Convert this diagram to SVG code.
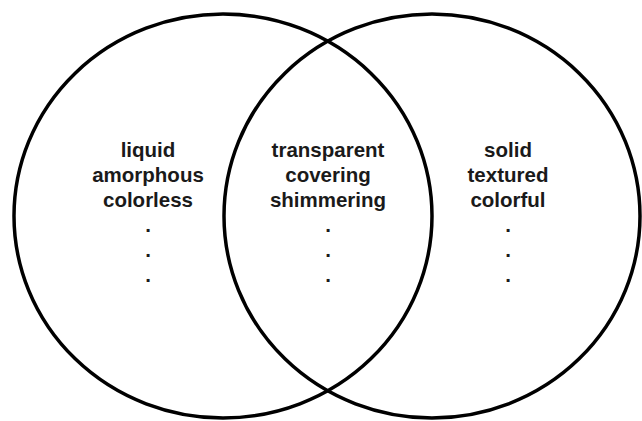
<svg xmlns="http://www.w3.org/2000/svg" width="642" height="421" viewBox="0 0 642 421">
<style>
.ring{fill:none;stroke:#000;stroke-width:3.5}
.lbl{font-family:"Liberation Sans",Arial,sans-serif;font-weight:bold;font-size:20.5px;fill:#1a1a1a;text-anchor:middle}
</style>
<rect width="642" height="421" fill="#fff"/>
<g id="set-left">
<ellipse class="ring" cx="223" cy="216" rx="209" ry="202"/>
<text class="lbl" x="148" y="157">liquid</text>
<text class="lbl" x="148" y="182">amorphous</text>
<text class="lbl" x="148" y="207">colorless</text>
<text class="lbl" x="148" y="232">.</text>
<text class="lbl" x="148" y="257">.</text>
<text class="lbl" x="148" y="282">.</text>
</g>
<g id="set-right">
<ellipse class="ring" cx="432" cy="216" rx="208" ry="202"/>
<text class="lbl" x="508" y="157">solid</text>
<text class="lbl" x="508" y="182">textured</text>
<text class="lbl" x="508" y="207">colorful</text>
<text class="lbl" x="508" y="232">.</text>
<text class="lbl" x="508" y="257">.</text>
<text class="lbl" x="508" y="282">.</text>
</g>
<g id="intersection">
<text class="lbl" x="328" y="157">transparent</text>
<text class="lbl" x="328" y="182">covering</text>
<text class="lbl" x="328" y="207">shimmering</text>
<text class="lbl" x="328" y="232">.</text>
<text class="lbl" x="328" y="257">.</text>
<text class="lbl" x="328" y="282">.</text>
</g>
</svg>
